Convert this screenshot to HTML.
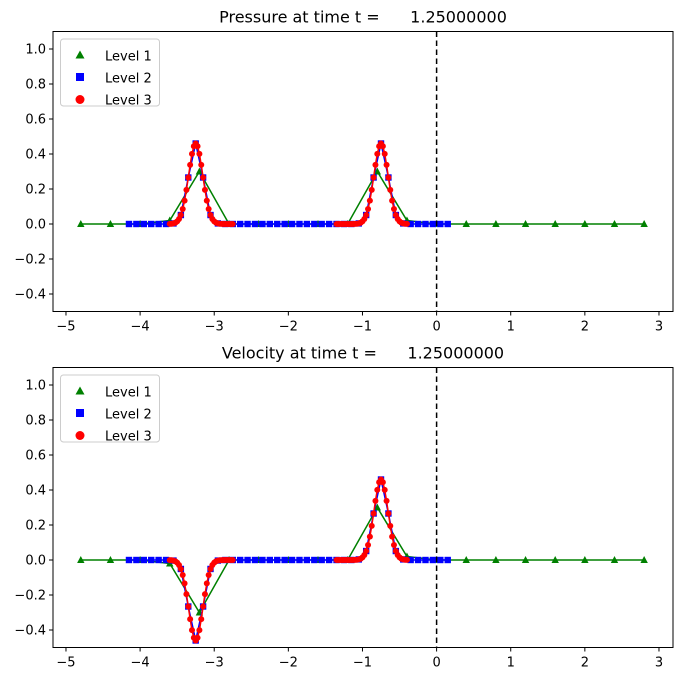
<!DOCTYPE html>
<html><head><meta charset="utf-8"><style>
html,body{margin:0;padding:0;background:#fff;}
svg{display:block;font-family:"DejaVu Sans","Liberation Sans",sans-serif;}
</style></head><body>
<svg id="s" width="683" height="682" viewBox="0 0 683 682" xmlns="http://www.w3.org/2000/svg"></svg>
<script>
var S=document.getElementById('s'),h='';
var X0=53,X1=673;
function px(x){return 436.6+x*74.125;}
function g(x,c,s){return 0.46*Math.exp(-Math.pow((x-c)/0.135,2))*s;}
function f(x,s1){return g(x,-3.25,s1)+g(x,-0.75,1);}
function panel(top,title,s1){
  var y0=top+192.5; function py(v){return y0-v*175;}
  var bot=top+280;
  h+='<text x="363" y="'+(top-9)+'" font-size="16" text-anchor="middle" xml:space="preserve">'+title+' at time t =      1.25000000</text>';
  for(var i=-5;i<=3;i++){var x=px(i);h+='<line x1="'+x+'" y1="'+bot+'" x2="'+x+'" y2="'+(bot+4)+'" stroke="#000"/>';
    h+='<text x="'+x+'" y="'+(bot+19)+'" font-size="13" text-anchor="middle">'+(i<0?'\u2212'+(-i):i)+'</text>';}
  for(var k=-4;k<=10;k+=2){var v=k/10,y=py(v);h+='<line x1="'+(X0-4)+'" y1="'+y+'" x2="'+X0+'" y2="'+y+'" stroke="#000"/>';
    h+='<text x="'+(X0-7)+'" y="'+(y+4.5)+'" font-size="13" text-anchor="end">'+(v<0?'\u2212'+(-v).toFixed(1):v.toFixed(1))+'</text>';}
  var L1=[];
  for(var j=0;j<=19;j++){var x=-4.8+0.4*j,v=0;
    if(Math.abs(x+3.2)<0.01)v=0.3*s1; if(Math.abs(x+3.6)<0.01)v=0.02*s1;
    if(Math.abs(x+0.8)<0.01)v=0.3; if(Math.abs(x+0.4)<0.01)v=0.02;
    L1.push([px(x),py(v)]);}
  h+='<polyline fill="none" stroke="green" stroke-width="1.5" points="'+L1.map(p=>p.join(',')).join(' ')+'"/>';
  L1.forEach(p=>{h+='<polygon fill="green" points="'+p[0]+','+(p[1]-4)+' '+(p[0]-3.7)+','+(p[1]+3)+' '+(p[0]+3.7)+','+(p[1]+3)+'"/>';});
  var L2=[];for(var j=0;j<=43;j++){var x=-4.15+0.1*j;L2.push([px(x),py(f(x,s1))]);}
  h+='<polyline fill="none" stroke="blue" stroke-width="1.5" points="'+L2.map(p=>p.join(',')).join(' ')+'"/>';
  L2.forEach(p=>{h+='<rect fill="blue" x="'+(p[0]-3.2)+'" y="'+(p[1]-3.2)+'" width="6.4" height="6.4"/>';});
  [[-3.6,-2.75],[-1.35,-0.39]].forEach(r=>{var L3=[];for(var x=r[0];x<=r[1]+1e-6;x+=0.025)L3.push([px(x),py(f(x,s1))]);
    h+='<polyline fill="none" stroke="red" stroke-width="1.5" points="'+L3.map(p=>p.join(',')).join(' ')+'"/>';
    L3.forEach(p=>{h+='<circle fill="red" cx="'+p[0]+'" cy="'+p[1]+'" r="3"/>';});});
  h+='<line x1="436.6" y1="'+top+'" x2="436.6" y2="'+bot+'" stroke="#000" stroke-width="1.5" stroke-dasharray="5.5,3.5"/>';
  h+='<rect x="'+X0+'" y="'+top+'" width="'+(X1-X0)+'" height="280" fill="none" stroke="#000" stroke-width="1"/>';
  var ly=top+7;
  h+='<rect x="60.5" y="'+(ly+0.5)+'" width="99" height="67" rx="3" fill="#fff" fill-opacity="0.8" stroke="#ccc"/>';
  var ys=[ly+17,ly+39,ly+61];
  h+='<polygon fill="green" points="80,'+(ys[0]-5)+' 75.5,'+(ys[0]+3)+' 84.5,'+(ys[0]+3)+'"/>';
  h+='<rect fill="blue" x="76" y="'+(ys[1]-4.5)+'" width="8" height="8"/>';
  h+='<circle fill="red" cx="80" cy="'+ys[2]+'" r="4.5"/>';
  ['Level 1','Level 2','Level 3'].forEach((t,i)=>{h+='<text x="105" y="'+(ys[i]+5)+'" font-size="13">'+t+'</text>';});
}
panel(31.5,'Pressure',1);
panel(367.5,'Velocity',-1);
S.innerHTML=h;
</script>
</body></html>
